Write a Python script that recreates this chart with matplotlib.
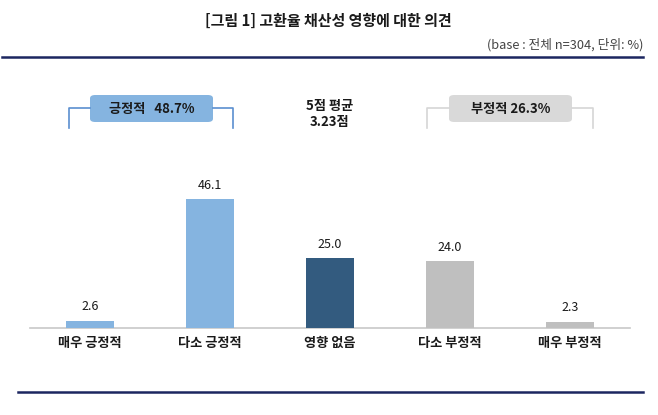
import matplotlib
matplotlib.use("Agg")
import matplotlib.pyplot as plt
from matplotlib.patches import FancyBboxPatch
from matplotlib.lines import Line2D

plt.rcParams["font.family"] = ["Noto Sans CJK KR", "DejaVu Sans"]

# data
categories = ["매우 긍정적", "다소 긍정적", "영향 없음", "다소 부정적", "매우 부정적"]
values = [2.6, 46.1, 25.0, 24.0, 2.3]
pos_label, pos_total = "긍정적", 48.7
neg_label, neg_total = "부정적", 26.3
mean_score = 3.23

LBLUE, DBLUE, GRAY = "#85b4e0", "#335b7f", "#bfbfbf"
NAVY, INK = "#1c2660", "#1a1a1a"
colors = [LBLUE, LBLUE, DBLUE, GRAY, GRAY]

W, H = 658, 415
fig = plt.figure(figsize=(W / 100, H / 100), dpi=100)


def fx(px):
    return px / W


def fy(py):
    return 1 - py / H


# axes: x 30..630 px, baseline at y=328 px, 2.8 px per unit
ax = fig.add_axes([fx(30), fy(328), fx(600), (328 - 80) / H])
ax.set_xlim(-0.5, 4.5)
ax.set_ylim(0, 248 / 2.8)
bars = ax.bar(range(len(values)), values, width=0.4, color=colors, zorder=3)
for b, v in zip(bars, values):
    ax.text(b.get_x() + b.get_width() / 2, v + 2.6, f"{v:.1f}", ha="center",
            va="bottom", fontsize=9, color=INK)
ax.set_xticks(range(len(categories)))
ax.set_xticklabels(categories, fontsize=9.5, fontweight="bold", color=INK)
ax.tick_params(axis="x", length=0, pad=6)
ax.set_yticks([])
for s in ["top", "right", "left"]:
    ax.spines[s].set_visible(False)
ax.spines["bottom"].set_color("#c8c8c8")
ax.spines["bottom"].set_linewidth(1.2)

# title and base note
fig.text(fx(328), fy(21), "[그림 1] 고환율 채산성 영향에 대한 의견", ha="center", va="center",
         fontsize=10.8, fontweight="bold", color=INK)
fig.text(fx(643), fy(45), "(base : 전체 n=304, 단위: %)", ha="right", va="center",
         fontsize=9.2, color="#444444")

# rules
fig.add_artist(Line2D([fx(2), fx(643)], [fy(57), fy(57)], color=NAVY, lw=1.8))
fig.add_artist(Line2D([fx(18), fx(643)], [fy(392), fy(392)], color=NAVY, lw=1.8))


def bracket(x0, x1, bx0, bx1, line_col, box_col, text):
    y_top, y_bot = fy(108), fy(128)
    fig.add_artist(Line2D([fx(x0), fx(x0), fx(bx0)], [y_bot, y_top, y_top], color=line_col, lw=1.2))
    fig.add_artist(Line2D([fx(bx1), fx(x1), fx(x1)], [y_top, y_top, y_bot], color=line_col, lw=1.2))
    box = FancyBboxPatch((fx(bx0), fy(122)), fx(bx1 - bx0), (122 - 95) / H,
                         boxstyle="round,pad=0,rounding_size=0.008",
                         transform=fig.transFigure, facecolor=box_col, edgecolor="none")
    fig.add_artist(box)
    fig.text(fx((bx0 + bx1) / 2), fy(109), text, ha="center", va="center",
             fontsize=9.5, fontweight="bold", color=INK)


bracket(69, 233, 90, 213, "#5b8fd0", LBLUE, f"{pos_label}   {pos_total:.1f}%")
bracket(427, 593, 449, 572, "#d6d6d6", "#d9d9d9", f"{neg_label} {neg_total:.1f}%")

fig.text(fx(330), fy(114), f"5점 평균\n{mean_score:.2f}점", ha="center", va="center",
         fontsize=9.5, fontweight="bold", color=INK, linespacing=1.15)

fig.savefig("out.png", dpi=100)
